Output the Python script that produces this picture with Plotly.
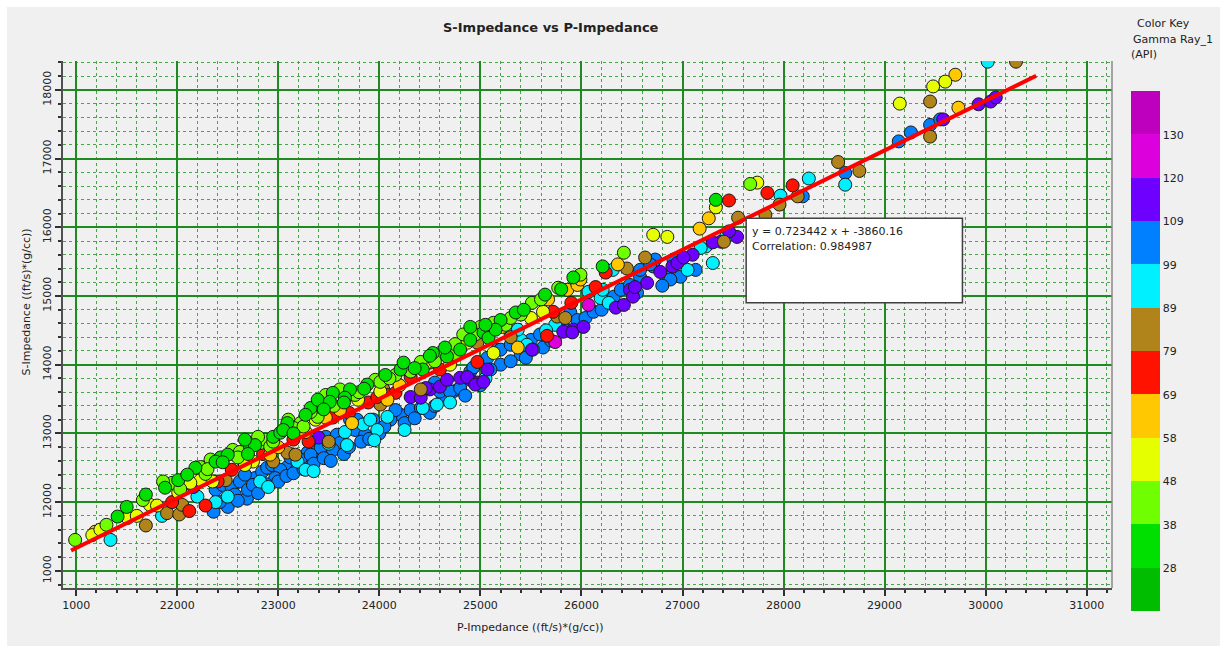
import plotly.graph_objects as go

# ---- crossplot data: P-Impedance, S-Impedance, grouped by Gamma Ray (API) band ----
p_gr33 = [21410, 21500, 21690, 21880, 22010, 22180, 22430, 22720, 22950, 23090, 23320,
          22380, 22500, 22770, 23020, 22670, 23050, 23270, 23390, 23540, 23710, 23660,
          23510, 23880, 24060, 24210, 24240, 24430, 24530, 24670, 24800, 24500, 24900,
          25030, 24900, 25080, 25200, 25150, 25350, 25430, 25920, 26210, 25640, 27330,
          22100, 22450, 22700, 23150, 23450, 23650, 23850, 24350, 24650, 25050, 25800]
s_gr33 = [11790, 11930, 12110, 12210, 12320, 12500, 12650, 12810, 12950, 13150, 13370,
          12590, 12690, 12830, 13010, 12910, 13050, 13270, 13490, 13590, 13640, 13520,
          13460, 13710, 13850, 13930, 14030, 13930, 14170, 14120, 14220, 14130, 14550,
          14470, 14360, 14390, 14650, 14510, 14760, 14800, 15270, 15430, 15020, 16400,
          12400, 12580, 12700, 13000, 13350, 13450, 13650, 13950, 14250, 14580, 15100]

p_gr43 = [20990, 21300, 21660, 21950, 21860, 22030, 22330, 22550, 22820, 23220, 23390,
          22230, 22620, 22870, 22920, 22800, 23100, 23150, 23470, 23610, 23400, 23760,
          23320, 23960, 24160, 24010, 24310, 24600, 24750, 24410, 25000, 25130, 24830,
          24950, 25250, 25300, 25400, 25510, 25990, 26420, 25770, 27670, 22280,
          22300, 22600, 22950, 23250, 23550, 23800, 24100, 24550, 24750, 25600]
s_gr43 = [11450, 11670, 12030, 12280, 12300, 12190, 12620, 12760, 12860, 13150, 13240,
          12510, 12730, 12910, 12810, 12950, 13200, 13080, 13560, 13640, 13390, 13560,
          13310, 13780, 13850, 13750, 13900, 14170, 14150, 14040, 14550, 14610, 14440,
          14440, 14580, 14680, 14730, 14900, 15310, 15630, 15120, 16630, 12410,
          12480, 12650, 12880, 13100, 13400, 13600, 13800, 14050, 14300, 14950]

p_gr53 = [21160, 21510, 21600, 21730, 21800, 22010, 22230, 22750, 23370, 23790, 24470,
          24870, 25130, 25500, 25620, 26710, 26850, 27740, 27330, 29150, 29480, 29600,
          22670, 24010, 21240, 22130, 24700, 22350]
s_gr53 = [11520, 11770, 11800, 11960, 11950, 12140, 12320, 12590, 13200, 13490, 14030,
          14320, 14170, 14680, 14770, 15890, 15860, 16650, 16290, 17800, 18050, 18120,
          12540, 13610, 11600, 12280, 14000, 12300]

p_gr63 = [21190, 21260, 22650, 23150, 23270, 23470, 23730, 24080, 25220, 25370, 25670,
          25860, 25960, 25990, 26360, 27260, 27170, 29700, 29730, 22920, 23610, 22080,
          24200, 23000]
s_gr63 = [11570, 11600, 12630, 13020, 13020, 13230, 13150, 13490, 14550, 14250, 14950,
          15090, 15160, 15240, 15460, 16130, 15980, 18220, 17740, 12690, 13340, 12350,
          13700, 12800]

p_gr74 = [21950, 22120, 22280, 22400, 23150, 23300, 23540, 23890, 23980, 24080, 24160,
          24310, 24970, 25660, 25720, 26140, 26240, 27460, 27840, 28090, 22540, 24600,
          22850, 23700, 25900]
s_gr74 = [12000, 11870, 11950, 12300, 12910, 12880, 13230, 13450, 13530, 13560, 13590,
          13820, 14040, 14420, 14770, 15130, 15340, 16390, 16500, 16610, 12470, 13930,
          12700, 13300, 14900]

p_gr84 = [21690, 21900, 22020, 22050, 22480, 22950, 23090, 23500, 24040, 24410, 24500,
          24970, 25170, 25760, 25840, 26450, 26630, 27410, 27550, 27820, 27960, 28140,
          28540, 28750, 29450, 29450, 30300, 24010, 23170, 25300]
s_gr84 = [11660, 11840, 11820, 11960, 12320, 12590, 12720, 12880, 13640, 13640, 14030,
          14320, 14550, 14700, 14680, 15400, 15560, 15790, 16140, 16180, 16330, 16450,
          16950, 16820, 17830, 17320, 18410, 13420, 12690, 14400]

p_gr94 = [21340, 21850, 22200, 22500, 22820, 23190, 23270, 23660, 23680, 23840, 23910,
          23980, 24080, 24430, 24570, 25300, 25400, 25460, 25520, 25740, 26070, 26190,
          26210, 26270, 26310, 27430, 27230, 27180, 27300, 27050, 27970, 28250, 28610,
          30020, 25370, 22380, 22900, 23350, 23500, 23950, 24250, 24700, 25050, 25650]
s_gr94 = [11450, 11800, 12080, 12080, 12300, 12590, 12470, 13020, 12830, 13130, 13200,
          13050, 13240, 13370, 13420, 14440, 14360, 14290, 14220, 14580, 15060, 14970,
          15090, 14900, 15380, 15860, 15720, 15700, 15480, 15380, 16460, 16710, 16620,
          18410, 14510, 12000, 12220, 12450, 12850, 12900, 13050, 13450, 13800, 14500]

p_gr104 = [22360, 22500, 22690, 22380, 22450, 22540, 22620, 22700, 22770, 22840, 22890,
           22570, 22670, 23090, 23190, 23290, 23390, 22940, 23020, 23120, 23220, 22750,
           22970, 23470, 23580, 23610, 23540, 23710, 23780, 23940, 24210, 24310, 24410,
           24630, 24730, 24780, 24600, 24700, 24800, 24900, 24930, 25070, 25170, 23420,
           23320, 23760, 23860, 24110, 24160, 25200, 25300, 25400, 25500, 25590, 25200,
           25100, 25620, 25790, 25890, 25960, 26040, 26120, 26320, 26390, 26480, 26730,
           26910, 26860, 26980, 27130, 26880, 26710, 26580, 26580, 26680, 28190, 28610,
           29140, 29260, 29450, 29550, 24550,
           22420, 22600, 22800, 22880, 23000, 23080, 23150, 23250, 23350, 23450, 23520,
           23650, 23700, 23820, 23900, 24000, 24050, 24250, 24350, 24500, 24550, 24850,
           25000, 25300, 25450, 25700, 25850, 26200, 26550, 26800]
s_gr104 = [11860, 11930, 12050, 12180, 12250, 12210, 12300, 12180, 12350, 12440, 12500,
           12110, 12400, 12510, 12500, 12720, 12760, 12540, 12470, 12650, 12620, 12250,
           12350, 12950, 12980, 12860, 12760, 13200, 13200, 13200, 13270, 13340, 13370,
           13520, 13610, 13640, 13610, 13610, 13660, 13900, 13960, 14100, 14220, 12790,
           12690, 13050, 12980, 13200, 13340, 14220, 14290, 14150, 14360, 14440, 14000,
           13930, 14250, 14580, 14760, 14650, 14680, 14770, 14990, 15090, 15160, 15530,
           15530, 15270, 15280, 15380, 15240, 15430, 15280, 15380, 15460, 16450, 16790,
           17250, 17380, 17490, 17570, 13740,
           12000, 12020, 12130, 12260, 12300, 12380, 12420, 12480, 12560, 12640, 12600,
           12700, 12800, 12880, 12920, 13000, 13100, 13150, 13220, 13300, 13400, 13550,
           13700, 14050, 14100, 14350, 14500, 14800, 15050, 15150]

p_gr115 = [22160, 23400, 24310, 24410, 24500, 24600, 24670, 24800, 24900, 24970, 25070,
           24870, 24950, 25030, 25510, 25920, 25820, 25910, 26020, 26340, 26480, 26650,
           26420, 26510, 26780, 26900, 26950, 27540, 27460, 27380, 27300, 27100, 27010,
           26530, 29580, 29930, 30050, 30100, 24460]
s_gr115 = [12220, 12940, 13530, 13520, 13640, 13680, 13780, 13810, 13780, 13740, 13930,
           13820, 13710, 13750, 14220, 14510, 14480, 14470, 14550, 14830, 15090, 15190,
           14870, 14990, 15350, 15430, 15480, 15860, 15940, 15790, 15780, 15600, 15560,
           15130, 17570, 17790, 17830, 17890, 13660]

p_gr125 = [25740, 26070]
s_gr125 = [14330, 14870]

# Gamma Ray value carried by each group above
gr_groups = [
    (104, p_gr104, s_gr104), (94, p_gr94, s_gr94), (115, p_gr115, s_gr115),
    (125, p_gr125, s_gr125), (84, p_gr84, s_gr84), (74, p_gr74, s_gr74),
    (63, p_gr63, s_gr63), (53, p_gr53, s_gr53), (43, p_gr43, s_gr43),
    (33, p_gr33, s_gr33),
]

# Regression from the fit label
slope = 0.723442
intercept = -3860.16
correlation = 0.984987
fit_x = [20950, 30500]

# Color key
key_colors = ["#00bd00", "#00e000", "#70ff00", "#e6ff00", "#ffc800", "#ff1200",
              "#b0841a", "#00f0ff", "#0080ff", "#6e00ff", "#dc00dc", "#be00be"]
key_min, key_step = 17.6, 10.2
key_labels = ["28", "38", "48", "58", "69", "79", "89", "99", "109", "120", "130"]

x_ticks = [21000, 22000, 23000, 24000, 25000, 26000, 27000, 28000, 29000, 30000, 31000]
x_ticktext = ["1000", "22000", "23000", "24000", "25000", "26000", "27000", "28000",
              "29000", "30000", "31000"]
y_ticks = [11000, 12000, 13000, 14000, 15000, 16000, 17000, 18000]
y_ticktext = ["1000", "12000", "13000", "14000", "15000", "16000", "17000", "18000"]

# ---- assemble ----
px, sx, gx = [], [], []
for g, pl, sl in gr_groups:
    px += pl
    sx += sl
    gx += [g] * len(pl)

n = len(key_colors)
key_max = key_min + key_step * n
cscale = []
for i, c in enumerate(key_colors):
    cscale.append([i / n, c])
    cscale.append([(i + 1) / n, c])
key_vals = [round(key_min + key_step * (i + 1), 1) for i in range(len(key_labels))]

FONT = "DejaVu Sans"
W, H = 1220, 646
ML, MR, MT, MB = 63, 108, 61, 58
PW, PH = W - ML - MR, H - MT - MB


def pxx(x):
    return (x - ML) / PW


def pyy(y):
    return (H - MB - y) / PH


fig = go.Figure()

fig.add_trace(go.Scatter(
    x=px, y=sx, mode="markers",
    marker=dict(
        size=13, color=gx, colorscale=cscale, cmin=key_min, cmax=key_max,
        line=dict(color="#1a1a1a", width=1),
        colorbar=dict(
            xref="container", yref="container",
            x=1131 / W, xanchor="left", y=1 - 112 / H, yanchor="top",
            lenmode="pixels", len=520, thicknessmode="pixels", thickness=29,
            xpad=0, ypad=0, outlinewidth=0, ticks="",
            tickvals=key_vals, ticktext=key_labels,
            tickfont=dict(family=FONT, size=11, color="#222"),
        ),
    ),
    showlegend=False, hoverinfo="skip",
))

fig.add_trace(go.Scatter(
    x=fit_x, y=[slope * v + intercept for v in fit_x], mode="lines",
    line=dict(color="#ff0000", width=4), showlegend=False, hoverinfo="skip",
))

axis_common = dict(
    showgrid=True, gridcolor="#1f8a1f", gridwidth=1.5,
    zeroline=False, showline=True, linecolor="#505050", linewidth=2,
    ticks="outside", ticklen=6, tickwidth=1.5, tickcolor="#303030",
    tickfont=dict(family=FONT, size=11, color="#222"),
    minor=dict(dtick=200, showgrid=True, gridcolor="#45a845", griddash="dot",
               gridwidth=1, ticks="outside", ticklen=3, tickcolor="#303030"),
)

fig.update_xaxes(range=[20870, 31250], tickvals=x_ticks, ticktext=x_ticktext, **axis_common)
fig.update_yaxes(range=[10750, 18420], tickvals=y_ticks, ticktext=y_ticktext,
                 tickangle=-90, **axis_common)

shapes = [
    # white border strips on the top and left of the panel
    dict(type="rect", xref="paper", yref="paper", x0=pxx(0), x1=pxx(W), y0=pyy(0), y1=pyy(7),
         fillcolor="white", line_width=0, layer="below"),
    dict(type="rect", xref="paper", yref="paper", x0=pxx(0), x1=pxx(7), y0=pyy(0), y1=pyy(H),
         fillcolor="white", line_width=0, layer="below"),
    # right frame edge
    dict(type="line", xref="paper", yref="paper", x0=1, x1=1, y0=0, y1=1,
         line=dict(color="#8a8a8a", width=1.5)),
    # fit statistics box
    dict(type="rect", xref="x", yref="y", x0=27630, x1=29770, y0=14900, y1=16130,
         fillcolor="white", line=dict(color="#404040", width=1.5), layer="above"),
]

annotations = [
    dict(text="<b>S-Impedance vs P-Impedance</b>", xref="paper", yref="paper",
         x=pxx(551), y=pyy(18), showarrow=False, font=dict(family=FONT, size=13, color="#222")),
    dict(text="P-Impedance ((ft/s)*(g/cc))", xref="paper", yref="paper",
         x=pxx(530), y=pyy(636), showarrow=False, font=dict(family=FONT, size=11, color="#222")),
    dict(text="S-Impedance ((ft/s)*(g/cc))", xref="paper", yref="paper", textangle=-90,
         x=pxx(17), y=pyy(302), showarrow=False, font=dict(family=FONT, size=11, color="#222")),
    dict(text=f"y = {slope} x + {intercept}", xref="x", yref="y", x=27670, y=15936,
         xanchor="left", showarrow=False, font=dict(family=FONT, size=11, color="#222")),
    dict(text=f"Correlation: {correlation}", xref="x", yref="y", x=27670, y=15717,
         xanchor="left", showarrow=False, font=dict(family=FONT, size=11, color="#222")),
    dict(text="Color Key", xref="paper", yref="paper", x=pxx(1135), y=pyy(15),
         xanchor="left", showarrow=False, font=dict(family=FONT, size=11, color="#222")),
    dict(text="Gamma Ray_1", xref="paper", yref="paper", x=pxx(1131), y=pyy(31),
         xanchor="left", showarrow=False, font=dict(family=FONT, size=11, color="#222")),
    dict(text="(API)", xref="paper", yref="paper", x=pxx(1129), y=pyy(46),
         xanchor="left", showarrow=False, font=dict(family=FONT, size=11, color="#222")),
]

fig.update_layout(
    width=W, height=H, margin=dict(l=ML, r=MR, t=MT, b=MB),
    paper_bgcolor="#f0f0f0", plot_bgcolor="#f0f0f0",
    shapes=shapes, annotations=annotations, showlegend=False,
)

fig.write_html("out.html")
